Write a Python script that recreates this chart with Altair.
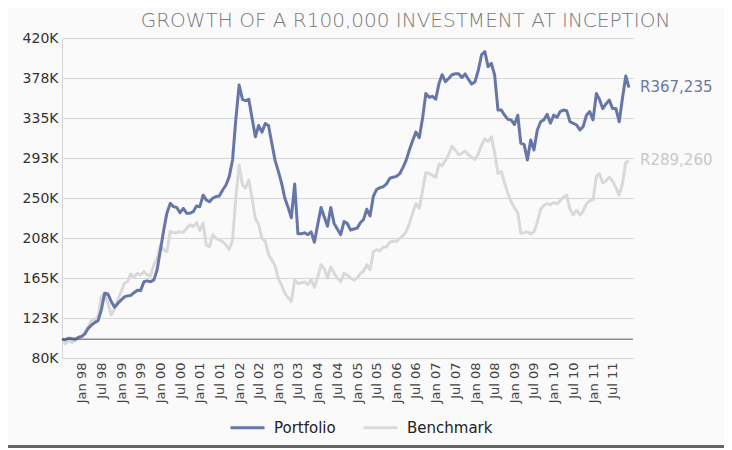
import altair as alt
import pandas as pd

# Monthly dates: Jul 1997 .. Dec 2011
months = pd.date_range("1997-07-01", periods=174, freq="MS")

# Values in R thousands
portfolio = [
    100, 99.5, 101, 100.5, 100, 102, 103, 106, 111.5, 115,
    117.6, 119.7, 131, 148.7, 148, 140, 134, 138, 141.6, 145,
    146, 146.5, 149.4, 152, 151.6, 161, 162, 161, 163, 173.5,
    194.8, 216, 233.8, 244.3, 240.8, 240, 234.4, 239, 233.8, 233.8,
    235.5, 241.5, 240.8, 253, 248, 246, 249.7, 251.5, 252.2, 258.5,
    263.8, 272.7, 290.4, 332.9, 370, 354.8, 353.4, 354.8, 335, 315,
    327, 320, 329, 327, 308, 290, 278, 265, 250, 240,
    229, 265, 212, 212, 213, 211, 214, 203, 222, 240,
    230, 220, 240, 223, 217, 211, 225, 223, 216, 217,
    218, 224, 227, 238, 231, 252, 259, 261, 262, 265,
    271, 272, 273, 276, 282, 290, 301, 311, 320, 314,
    335, 361, 357, 358, 355, 372, 381, 373.6, 377, 381,
    382, 382, 378, 381.8, 376, 371, 373.6, 386, 402, 405.5,
    389.6, 393, 380.7, 343.5, 343.5, 338, 333.6, 333, 328, 338,
    308, 307, 290.4, 311.6, 301, 322, 331, 333, 339, 329.4,
    338, 335.7, 341.8, 343.5, 342.8, 331, 329.4, 327.6, 322.3, 325.8,
    338, 341.8, 333, 361, 355, 345, 350, 354, 345, 345,
    331, 356, 379.6, 367.235,
]
benchmark = [
    100, 95, 98.5, 96.4, 98.5, 101, 102.8, 108, 113, 119.7,
    121, 124, 145.3, 148.8, 138, 125.8, 131.8, 141.7, 150.6, 159.4,
    161, 169.3, 165.8, 170, 168.3, 171.8, 168.3, 167.2, 178.9, 186,
    200, 194.8, 193, 214.3, 213.2, 213.2, 214.3, 213.5, 217.9, 221.4,
    219.6, 223.9, 215.4, 223.2, 200, 198.4, 210.8, 207.2, 205.5, 203.7,
    200, 195.5, 205.5, 249.7, 285.1, 263.9, 260.3, 269.2, 250, 228,
    222, 207, 204, 190, 184, 178, 164, 157, 149, 144,
    140, 163, 159, 160, 161, 158, 163, 155, 166, 179,
    175, 165, 177, 170, 165, 161, 170, 168, 165, 163,
    165, 170, 172, 179, 174, 193, 195, 194, 198, 198,
    203, 204, 204, 207, 210, 214, 223, 234, 244, 239,
    258, 277, 276, 274, 272, 286, 284, 290, 296, 305,
    301, 296, 297.5, 300, 296, 293, 291, 297, 306, 313,
    310, 315, 298, 276, 278, 266, 255, 246, 240, 234,
    212.5, 213, 214, 212, 214, 224, 238, 242, 244, 243,
    245, 244, 247, 251, 253, 238, 232, 237, 232, 236,
    244, 247, 248, 273, 276, 266, 268, 272, 268, 261,
    253, 265, 288, 289.26,
]

series_names = ["Portfolio", "Benchmark"]
series_colors = ["#6676a8", "#d9d9d9"]
end_labels = ["R367,235", "R289,260"]
end_label_colors = ["#6a78a3", "#c8c8c8"]
y_ticks = [80000, 122500, 165000, 207500, 250000, 292500, 335000, 377500, 420000]
x_tick_dates = pd.date_range("1998-01-01", "2011-07-01", freq="6MS")
baseline_value = [100000]
title_text = "GROWTH OF A R100,000 INVESTMENT AT INCEPTION"

W, H = 571, 320
FONT = "DejaVu Sans"

df = pd.concat([
    pd.DataFrame({"date": months, "series": "Portfolio", "value": [v * 1000 for v in portfolio]}),
    pd.DataFrame({"date": months, "series": "Benchmark", "value": [v * 1000 for v in benchmark]}),
])

x_scale = alt.Scale(domain=[alt.DateTime(year=1997, month=7, date=1),
                            alt.DateTime(year=2012, month=1, date=7)])
y_scale = alt.Scale(domain=[80000, 420000], nice=False, zero=False)

x_axis = alt.Axis(
    title=None,
    values=[alt.DateTime(year=d.year, month=d.month, date=1) for d in x_tick_dates],
    format="%b %y",
    labelAngle=270,
    labelFont=FONT,
    labelFontSize=13,
    labelColor="#444444",
    labelPadding=4,
    ticks=False,
    grid=False,
    domain=False,
    labelOverlap=False,
    labelFlush=False,
)
y_axis = alt.Axis(
    title=None,
    values=y_ticks,
    labelExpr="round(datum.value / 1000) + 'K'",
    labelFont=FONT,
    labelFontSize=14,
    labelColor="#333333",
    labelPadding=4,
    labelOverlap=False,
    labelFlush=False,
    ticks=False,
    grid=True,
    gridColor="#d6d6d6",
    gridWidth=1,
    domain=True,
    domainColor="#d6d6d6",
)

x_enc = alt.X("date:T", scale=x_scale, axis=x_axis)
y_enc = alt.Y("value:Q", scale=y_scale, axis=y_axis)
color_enc = alt.Color(
    "series:N",
    scale=alt.Scale(domain=series_names, range=series_colors),
    legend=alt.Legend(
        title=None,
        orient="none",
        legendX=167,
        legendY=371,
        direction="horizontal",
        symbolType="stroke",
        symbolStrokeWidth=3,
        symbolSize=1156,
        labelFont=FONT,
        labelFontSize=15,
        labelColor="#222222",
        labelOffset=8,
        columnPadding=21,
    ),
)

base = alt.Chart(df)
bench_line = base.transform_filter(alt.datum.series == "Benchmark").mark_line(
    strokeWidth=3, strokeJoin="round"
).encode(x=x_enc, y=y_enc, color=color_enc)
port_line = base.transform_filter(alt.datum.series == "Portfolio").mark_line(
    strokeWidth=3, strokeJoin="round"
).encode(x=x_enc, y=y_enc, color=color_enc)

rule100 = alt.Chart(pd.DataFrame({"value": baseline_value})).mark_rule(
    color="#555555", strokeWidth=1
).encode(y=y_enc)

end_df = pd.DataFrame({
    "date": [months[-1], months[-1]],
    "value": [portfolio[-1] * 1000, benchmark[-1] * 1000],
    "label": end_labels,
    "c": end_label_colors,
})
end_text = alt.Chart(end_df).mark_text(
    align="left", baseline="middle", dx=11, dy=-1, font=FONT, fontSize=15
).encode(
    x=x_enc,
    y=y_enc,
    text="label:N",
    color=alt.Color("c:N", scale=None),
)

bottom_rule = alt.Chart(pd.DataFrame({"v": [0]})).mark_rule(
    color="#666666", strokeWidth=3
).encode(x=alt.value(-54), x2=alt.value(W + 91), y=alt.value(408.5))

chart = alt.layer(bench_line, port_line, rule100, end_text, bottom_rule).properties(
    width=W,
    height=H,
    title=alt.TitleParams(
        text=title_text,
        font=FONT,
        fontSize=20,
        fontWeight=200,
        color="#7a7a7a",
        anchor="middle",
        frame="group",
        dx=58,
        offset=0,
    ),
    autosize=alt.AutoSizeParams(type="none"),
    padding={"left": 54, "top": 30, "right": 91, "bottom": 90},
    background="#fafafa",
).configure_view(stroke=None)

chart.save("out.html", embed_options={"renderer": "svg", "actions": False})
